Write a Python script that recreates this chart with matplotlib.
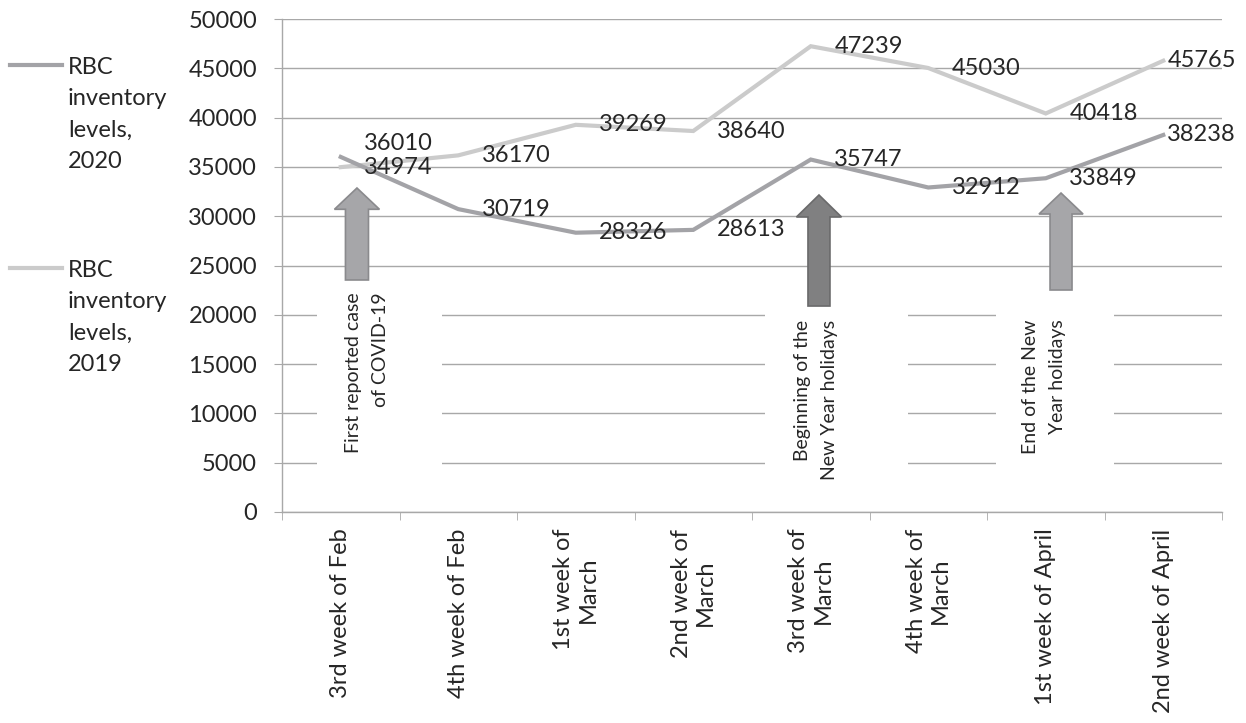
import matplotlib
matplotlib.use("Agg")
import matplotlib.pyplot as plt
from matplotlib.patches import Polygon, Rectangle
from matplotlib.lines import Line2D

plt.rcParams['font.family'] = ['Lato', 'DejaVu Sans']

categories = ["3rd week of Feb", "4th week of Feb", "1st week of\nMarch", "2nd week of\nMarch",
              "3rd week of\nMarch", "4th week of\nMarch", "1st week of April", "2nd week of April"]
rbc_2020 = [36010, 30719, 28326, 28613, 35747, 32912, 33849, 38238]
rbc_2019 = [34974, 36170, 39269, 38640, 47239, 45030, 40418, 45765]
series_names = ["RBC\ninventory\nlevels,\n2020", "RBC\ninventory\nlevels,\n2019"]
yticks = list(range(0, 50001, 5000))
events = ["First reported case\nof COVID-19", "Beginning of the\nNew Year holidays",
          "End of the New\nYear holidays"]

C2020 = "#a3a3a7"
C2019 = "#cbcbcb"
GRID = "#a8a8a8"
TXT = "#262626"

W, H = 1246, 723
fig = plt.figure(figsize=(W / 100, H / 100), dpi=100)
ax = fig.add_axes([282 / W, 1 - 512 / H, 940 / W, 493 / H])

x = list(range(len(categories)))
ax.set_xlim(-0.5, len(categories) - 0.5)
ax.set_ylim(0, 50000)
ax.set_yticks(yticks)
ax.yaxis.grid(True, color=GRID, lw=1.0, zorder=0)
ax.set_axisbelow(True)
for s in ["top", "right"]:
    ax.spines[s].set_visible(False)
for s in ["left", "bottom"]:
    ax.spines[s].set_color(GRID)
    ax.spines[s].set_linewidth(1.0)
ax.tick_params(axis="y", length=6, color=GRID, labelsize=17, labelcolor=TXT, pad=12)
ax.set_xticks(x)
ax.set_xticklabels(categories, rotation=90, ha="center", va="top", multialignment="center")
ax.tick_params(axis="x", which="major", length=0, labelsize=17, labelcolor=TXT, pad=12)
ax.set_xticks([i - 0.5 for i in range(len(categories) + 1)], minor=True)
ax.tick_params(axis="x", which="minor", length=6, color=GRID)

ax.plot(x, rbc_2019, color=C2019, lw=3.0, zorder=3, solid_joinstyle="miter")
ax.plot(x, rbc_2020, color=C2020, lw=3.0, zorder=4, solid_joinstyle="miter")

n = len(categories)
for i in range(n):
    dx = 3 if i == n - 1 else 17
    for vals, extra in ((rbc_2020, 10 if i == 0 else 0), (rbc_2019, 0)):
        ax.annotate(str(vals[i]), (x[i], vals[i]), xytext=(dx, extra), textcoords="offset points",
                    ha="left", va="center", fontsize=17, color=TXT, zorder=6)

# White text boxes covering gridlines
boxes = [(-0.20, 0.86, 3700, 23000), (3.61, 4.83, 2000, 21500), (5.58, 6.58, 3700, 21500)]
for x0, x1, y0, y1 in boxes:
    ax.add_patch(Rectangle((x0, y0), x1 - x0, y1 - y0, facecolor="white", edgecolor="none", zorder=1.5))

# Arrows (center x, bottom, head base, tip, body width, head width, fill, edge)
arrows = [(0.138, 23530, 30700, 32860, 0.196, 0.383, "#a6a6a9", "#8a8a8d"),
          (4.07, 20890, 29920, 32150, 0.187, 0.383, "#808081", "#6a6a6b"),
          (6.13, 22515, 30220, 32350, 0.187, 0.375, "#a6a6a9", "#8a8a8d")]
for cx, yb, yh, yt, bw, hw, fc, ec in arrows:
    pts = [(cx - bw / 2, yb), (cx + bw / 2, yb), (cx + bw / 2, yh), (cx + hw / 2, yh),
           (cx, yt), (cx - hw / 2, yh), (cx - bw / 2, yh)]
    ax.add_patch(Polygon(pts, closed=True, facecolor=fc, edgecolor=ec, lw=1.2, zorder=5))

text_pos = [(0.223, 22300), (4.045, 19500), (5.985, 19500)]
for (tx, ty), t in zip(text_pos, events):
    ax.text(tx, ty, t, rotation=90, ha="center", va="top", multialignment="right",
            fontsize=14, color=TXT, zorder=6, linespacing=1.75)

# Legend drawn at the left
leg = [(65, C2020, series_names[0]), (268, C2019, series_names[1])]
for yy, c, lab in leg:
    fig.add_artist(Line2D([10 / W, 62 / W], [1 - yy / H, 1 - yy / H], color=c, lw=3.0,
                          transform=fig.transFigure))
    fig.text(68 / W, 1 - (yy - 8) / H, lab, ha="left", va="top", fontsize=17, color=TXT,
             linespacing=1.6)

fig.savefig("out.png", dpi=100, facecolor="white")
